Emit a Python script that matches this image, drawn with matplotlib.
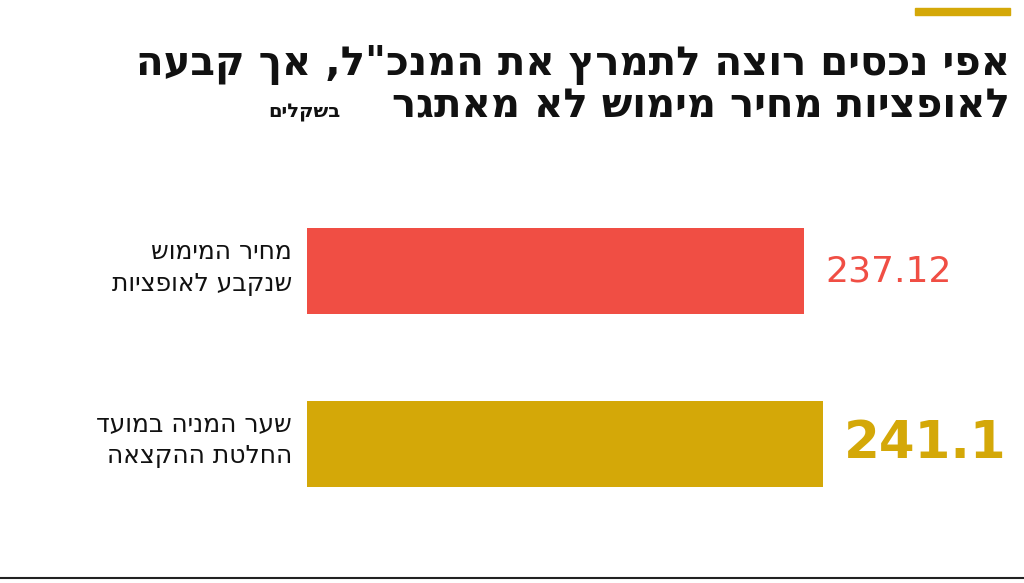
import matplotlib
matplotlib.use("Agg")
import matplotlib.pyplot as plt

plt.rcParams['font.family'] = ['DejaVu Sans']

labels = ["מחיר המימוש\nשנקבע לאופציות", "שער המניה במועד\nהחלטת ההקצאה"]
values = [237.12, 241.1]
value_text = ["237.12", "241.1"]
colors = ["#f04e44", "#d4a808"]
title1 = 'אפי נכסים רוצה לתמרץ את המנכ"ל, אך קבעה'
title2 = "לאופציות מחיר מימוש לא מאתגר"
unit = "בשקלים"


def rtl(s):
    # matplotlib has no bidi support, flip each line by hand
    return "\n".join(line[::-1] for line in s.split("\n"))


W, H = 1024, 583
fig = plt.figure(figsize=(W / 100, H / 100), dpi=100)

ax = fig.add_axes([307 / W, 1 - 530 / H, 703 / W, 345 / H])
ypos = [1, 0]
ax.barh(ypos, values, height=0.5, color=colors, left=0)
ax.set_xlim(133, 133 + 703 / 4.77)
ax.set_ylim(-0.5, 1.5)
ax.axis("off")

sizes = [26, 37]
for y, v, t, c, s in zip(ypos, values, value_text, colors, sizes):
    ax.text(v + 4.5, y, t, ha="left", va="center", color=c, fontsize=s,
            fontweight="bold" if s > 30 else "normal")
for y, lab in zip(ypos, labels):
    fig.text(292 / W, 1 - (268 if y == 1 else 440) / H, rtl(lab), ha="right", va="center",
             fontsize=18, color="#111111", linespacing=1.45)

fig.text(1010 / W, 1 - 65 / H, rtl(title1), ha="right", va="center",
         fontsize=29, fontweight="bold", color="#111111")
fig.text(1010 / W, 1 - 106 / H, rtl(title2), ha="right", va="center",
         fontsize=29, fontweight="bold", color="#111111")
fig.text(340 / W, 1 - 112 / H, rtl(unit), ha="right", va="center",
         fontsize=14, fontweight="bold", color="#111111")

fig.add_artist(plt.Rectangle((915 / W, 1 - 15 / H), 95 / W, 7 / H,
                             transform=fig.transFigure, color="#d4a808"))
fig.add_artist(plt.Line2D([0, 1], [1 - 578 / H] * 2, transform=fig.transFigure,
                          color="#222222", lw=1.5))

fig.savefig("out.png", dpi=100)
